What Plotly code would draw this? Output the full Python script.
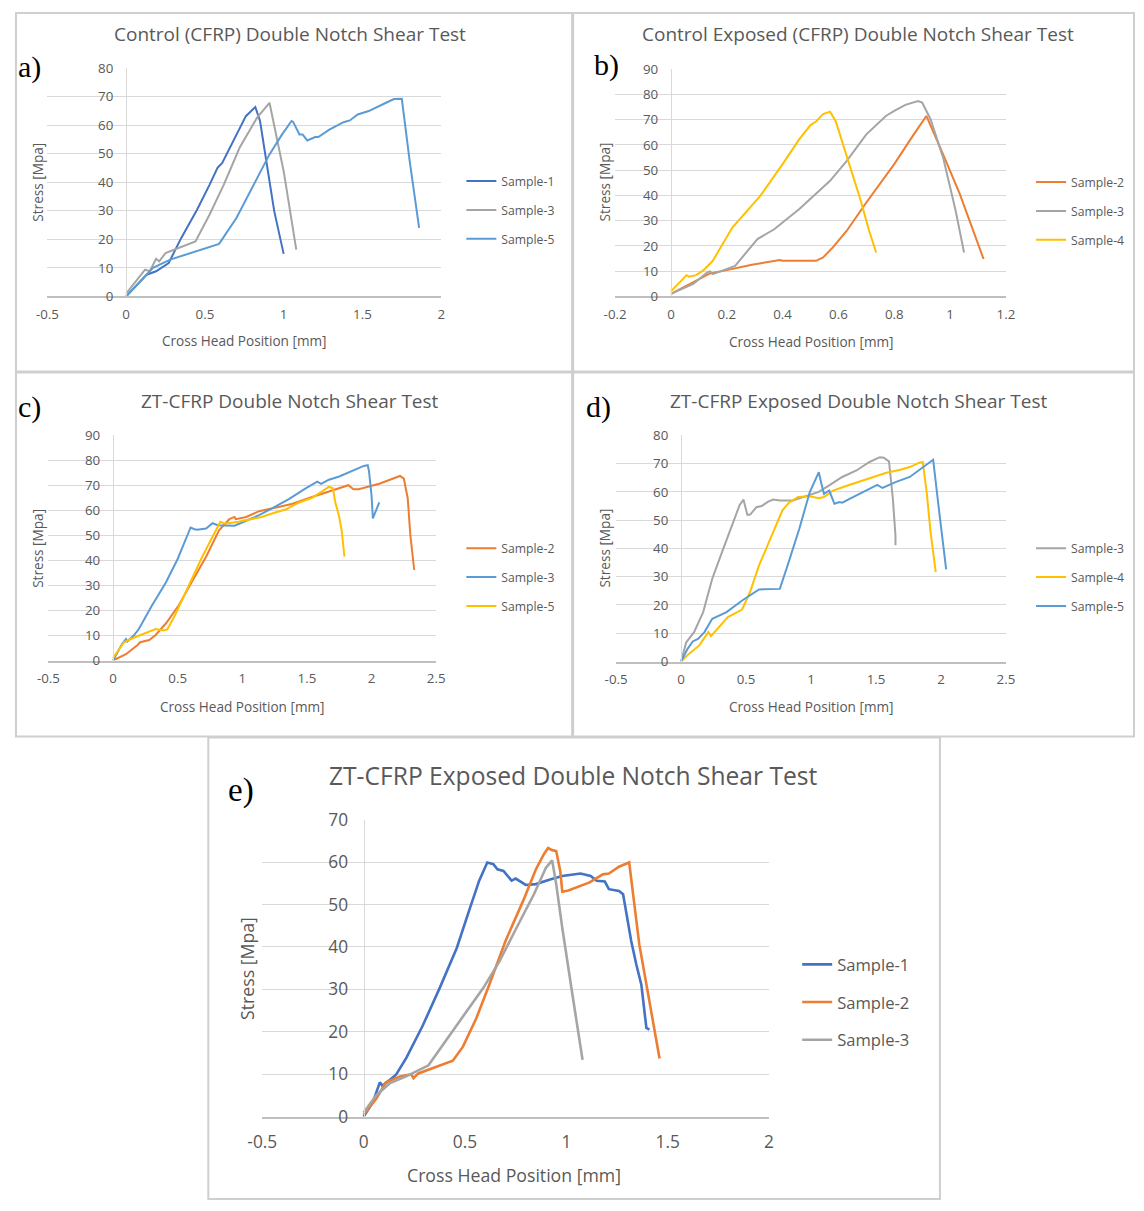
import plotly.graph_objects as go

W, H = 1144, 1211

# ---------------- data ----------------
# a) Control (CFRP)
A_S1_X = [0, 0.13, 0.19, 0.27, 0.35, 0.45, 0.53, 0.58, 0.61, 0.68, 0.76, 0.82, 0.85, 0.89, 0.94, 1.00]
A_S1_Y = [0, 7.6, 8.8, 11.7, 20.5, 30.4, 39.2, 45.1, 46.8, 54.4, 63.2, 66.4, 61.5, 47.4, 29.9, 14.9]
A_S3_X = [0, 0.12, 0.15, 0.19, 0.21, 0.25, 0.32, 0.44, 0.53, 0.62, 0.72, 0.83, 0.91, 1.00, 1.08]
A_S3_Y = [1, 9.4, 8.8, 13.2, 12.3, 15.2, 16.7, 19.3, 28.7, 39.2, 52.1, 62.6, 67.9, 43.9, 16.4]
A_S5_X = [0, 0.17, 0.28, 0.59, 0.70, 0.81, 0.91, 0.99, 1.05, 1.06, 1.10, 1.12, 1.15, 1.20, 1.22,
          1.29, 1.38, 1.42, 1.47, 1.54, 1.59, 1.65, 1.70, 1.75, 1.80, 1.86]
A_S5_Y = [0, 10, 12.9, 18.4, 27.5, 39.2, 49.8, 56.8, 61.5, 61.2, 56.8, 56.8, 54.7, 55.9, 55.9,
          58.5, 61.1, 61.7, 63.8, 65.0, 66.2, 67.9, 69.2, 69.3, 47.4, 24.0]

# b) Control Exposed (CFRP)
B_S2_X = [0, 0.08, 0.14, 0.20, 0.29, 0.39, 0.40, 0.52, 0.545, 0.58, 0.63, 0.70, 0.80, 0.87, 0.915,
          0.975, 1.035, 1.12]
B_S2_Y = [1, 5.5, 9.1, 10.4, 12.5, 14.4, 14.1, 14.1, 15.4, 19.4, 26, 37.2, 52.4, 64.2, 71.5,
          56.3, 40.5, 14.8]
B_S3_X = [0, 0.08, 0.13, 0.14, 0.15, 0.23, 0.27, 0.31, 0.37, 0.46, 0.57, 0.63, 0.70, 0.77, 0.80,
          0.84, 0.885, 0.90, 0.93, 0.975, 1.02, 1.05]
B_S3_Y = [1, 4.9, 9.5, 9.9, 8.8, 12.1, 17.4, 22.7, 26.6, 34.6, 45.8, 53.7, 64.2, 71.5, 73.5,
          75.9, 77.4, 76.8, 70.2, 55, 33.9, 17.4]
B_S4_X = [0, 0.03, 0.056, 0.065, 0.09, 0.115, 0.15, 0.22, 0.32, 0.40, 0.46, 0.50, 0.52, 0.545,
          0.57, 0.59, 0.61, 0.64, 0.68, 0.71, 0.735]
B_S4_Y = [2, 5.5, 8.4, 7.8, 8.4, 10.2, 14.1, 27.3, 39.8, 52.4, 62.3, 67.9, 69.3, 72.2,
          73.2, 69.5, 62.3, 52.4, 37.9, 26, 17.4]

# c) ZT-CFRP
C_S2_X = [0, 0.10, 0.19, 0.21, 0.28, 0.33, 0.41, 0.51, 0.61, 0.72, 0.82, 0.90, 0.94, 0.95, 1.03,
          1.13, 1.28, 1.39, 1.54, 1.70, 1.82, 1.86, 1.90, 2.06, 2.16, 2.22, 2.25, 2.28, 2.30, 2.33]
C_S2_Y = [0, 2.5, 6.2, 7.3, 8.2, 10.2, 14.9, 22.2, 31.5, 41.5, 52.1, 56.5, 57.4, 56.5, 57.4,
          59.7, 61.4, 62.7, 65.4, 68.1, 70.1, 68.5, 68.5, 70.7, 72.7, 73.8, 72.7, 64.8, 50.1, 36.2]
C_S3_X = [0, 0.07, 0.10, 0.11, 0.16, 0.20, 0.30, 0.41, 0.50, 0.56, 0.60, 0.63, 0.65, 0.72, 0.77,
          0.81, 0.87, 0.94, 1.03, 1.13, 1.23, 1.36, 1.49, 1.58, 1.61, 1.67, 1.75, 1.85, 1.94, 1.97,
          1.98, 2.00, 2.01, 2.03, 2.06]
C_S3_Y = [0, 6.6, 8.6, 7.6, 10.0, 12.6, 21.9, 31.3, 40.6, 47.9, 53.2, 52.5, 52.3, 52.8, 54.9,
          54.1, 54.1, 53.9, 55.9, 58.1, 60.8, 64.5, 68.8, 71.5, 70.6, 72.3, 73.6, 75.8, 77.8, 78.1,
          75.8, 65.9, 56.8, 59.4, 63.2]
C_S5_X = [0, 0.085, 0.15, 0.23, 0.33, 0.39, 0.42, 0.48, 0.59, 0.69, 0.79, 0.83, 0.86, 0.88, 0.97,
          1.08, 1.15, 1.23, 1.34, 1.44, 1.54, 1.62, 1.67, 1.70, 1.72, 1.75, 1.77, 1.79]
C_S5_Y = [1, 7.3, 8.9, 10.6, 12.6, 12.0, 12.4, 18.2, 30.2, 41.5, 51.5, 55.5, 54.8, 54.8, 55.5,
          56.5, 57.4, 58.8, 60.5, 63.2, 65.0, 67.7, 69.4, 69.0, 63.2, 57.4, 51.5, 41.5]

# d) ZT-CFRP Exposed
D_S3_X = [0, 0.04, 0.06, 0.10, 0.17, 0.24, 0.32, 0.40, 0.45, 0.48, 0.51, 0.53, 0.58, 0.62, 0.67,
          0.71, 0.76, 0.86, 0.96, 1.06, 1.14, 1.24, 1.35, 1.45, 1.53, 1.56, 1.60, 1.63, 1.65, 1.65]
D_S3_Y = [0, 6.8, 8.0, 10.4, 17.5, 29.3, 39.3, 49.4, 55.3, 57.3, 51.9, 51.9, 54.6, 55.0, 56.6,
          57.3, 57.0, 57.0, 58.5, 60.0, 62.3, 65.3, 67.6, 70.6, 72.3, 72.1, 70.8, 57.6, 44.6, 41.1]
D_S4_X = [0, 0.06, 0.14, 0.21, 0.23, 0.29, 0.36, 0.47, 0.53, 0.60, 0.71, 0.78, 0.83, 0.90, 0.99,
          1.06, 1.10, 1.17, 1.27, 1.37, 1.47, 1.58, 1.68, 1.76, 1.83, 1.86, 1.89, 1.92, 1.96]
D_S4_Y = [0, 2.7, 5.7, 10.4, 9.0, 12.2, 15.7, 18.4, 24.5, 34.0, 45.8, 53.5, 56.2, 58.2, 58.5,
          57.8, 58.2, 60.5, 62.1, 63.7, 65.3, 66.8, 67.8, 68.8, 70.3, 70.6, 60.0, 45.8, 31.6]
D_S5_X = [0, 0.05, 0.09, 0.13, 0.18, 0.24, 0.35, 0.47, 0.60, 0.76, 0.82, 0.91, 0.99, 1.06, 1.08,
          1.10, 1.14, 1.18, 1.22, 1.24, 1.35, 1.47, 1.51, 1.55, 1.65, 1.76, 1.83, 1.90, 1.94, 1.99, 2.04]
D_S5_Y = [0, 4.5, 7.1, 8.0, 10.4, 15.1, 17.5, 21.6, 25.5, 25.7, 34.0, 47.0, 59.9, 67.0, 62.9,
          59.3, 60.5, 55.8, 56.4, 56.2, 58.8, 61.7, 62.5, 61.4, 63.5, 65.3, 67.6, 70.0, 71.4, 51.7, 32.6]

# e) ZT-CFRP Exposed (large)
E_S1_X = [0, 0.046, 0.08, 0.092, 0.13, 0.16, 0.21, 0.29, 0.375, 0.46, 0.52, 0.57, 0.61, 0.64, 0.66,
          0.69, 0.73, 0.75, 0.80, 0.85, 0.92, 0.98, 1.07, 1.12, 1.15, 1.19, 1.21, 1.26, 1.28, 1.30,
          1.32, 1.345, 1.37, 1.395, 1.41]
E_S1_Y = [0, 3.5, 8.1, 7.3, 8.7, 9.9, 13.8, 21.3, 30.3, 39.8, 48.5, 55.6, 59.9, 59.5, 58.3,
          57.9, 55.6, 56.1, 54.6, 54.8, 55.9, 56.7, 57.3, 56.7, 55.6, 55.4, 53.6, 53.2, 52.4, 46.9,
          41.4, 35.9, 31.1, 20.9, 20.5]
E_S2_X = [0, 0.063, 0.11, 0.18, 0.235, 0.246, 0.27, 0.36, 0.44, 0.49, 0.556, 0.62, 0.70, 0.79, 0.85,
          0.89, 0.91, 0.93, 0.95, 0.97, 0.98, 1.01, 1.05, 1.115, 1.18, 1.21, 1.26, 1.31, 1.36, 1.46]
E_S2_Y = [0.5, 4.3, 8.1, 9.5, 10.0, 9.1, 10.2, 11.8, 13.2, 16.5, 23.2, 31.1, 41.4, 51.2, 58.3,
          61.9, 63.3, 62.8, 62.6, 57.9, 53.0, 53.3, 54.0, 55.2, 57.1, 57.3, 58.9, 59.9, 40.6, 13.7]
E_S3_X = [0, 0.063, 0.13, 0.21, 0.32, 0.39, 0.49, 0.59, 0.67, 0.75, 0.84, 0.90, 0.93, 0.95, 0.98,
          1.03, 1.08]
E_S3_Y = [1, 5.1, 7.9, 9.5, 12.1, 16.9, 23.6, 30.3, 36.6, 44.1, 52.4, 58.7, 60.4, 54.8, 44.5,
          28.8, 13.4]

# tick values
A_XTICKS = [-0.5, 0, 0.5, 1, 1.5, 2]
B_XTICKS = [-0.2, 0, 0.2, 0.4, 0.6, 0.8, 1, 1.2]
C_XTICKS = [-0.5, 0, 0.5, 1, 1.5, 2, 2.5]
D_XTICKS = [-0.5, 0, 0.5, 1, 1.5, 2, 2.5]
E_XTICKS = [-0.5, 0, 0.5, 1, 1.5, 2]

TITLES = ["Control (CFRP) Double Notch Shear Test",
          "Control Exposed (CFRP) Double Notch Shear Test",
          "ZT-CFRP Double Notch Shear Test",
          "ZT-CFRP Exposed Double Notch Shear Test",
          "ZT-CFRP Exposed Double Notch Shear Test"]
LABELS = ["a)", "b)", "c)", "d)", "e)"]
X_TITLE = "Cross Head Position [mm]"
Y_TITLE = "Stress [Mpa]"

# ---------------- styles ----------------
DBLUE, ORANGE, GRAY, YELLOW, LBLUE = "#4472C4", "#ED7D31", "#A5A5A5", "#FFC000", "#5B9BD5"
TXT = "#595959"
FONT = "Open Sans"

# the photographed page shows a small frame around the figure; the layout
# positions below are given in picture pixels and mapped back to the page
OFFX, OFFY, SX, SY = 14.6, 11.75, 0.9795, 0.9806

panels = [
    dict(series=[("Sample-1", A_S1_X, A_S1_Y, DBLUE), ("Sample-3", A_S3_X, A_S3_Y, GRAY),
                 ("Sample-5", A_S5_X, A_S5_Y, LBLUE)],
         xr=[-0.5, 2], yr=[0, 80], xticks=A_XTICKS,
         px=(47, 441), py=(296, 68), box=(7, 6, 572, 371),
         title=(290, 34), lab=(29, 67), ytit=(37, 182), xtit=(244, 340),
         leg=(469, 181), big=False),
    dict(series=[("Sample-2", B_S2_X, B_S2_Y, ORANGE), ("Sample-3", B_S3_X, B_S3_Y, GRAY),
                 ("Sample-4", B_S4_X, B_S4_Y, YELLOW)],
         xr=[-0.2, 1.2], yr=[0, 90], xticks=B_XTICKS,
         px=(615, 1006), py=(296, 69), box=(573, 6, 1143, 371),
         title=(858, 34), lab=(606, 65), ytit=(604, 182), xtit=(811, 341),
         leg=(1039, 182), big=False),
    dict(series=[("Sample-2", C_S2_X, C_S2_Y, ORANGE), ("Sample-3", C_S3_X, C_S3_Y, LBLUE),
                 ("Sample-5", C_S5_X, C_S5_Y, YELLOW)],
         xr=[-0.5, 2.5], yr=[0, 90], xticks=C_XTICKS,
         px=(48, 436), py=(660, 435), box=(7, 372, 572, 736),
         title=(290, 401), lab=(29, 407), ytit=(37, 548), xtit=(242, 706),
         leg=(469, 548), big=False),
    dict(series=[("Sample-3", D_S3_X, D_S3_Y, GRAY), ("Sample-4", D_S4_X, D_S4_Y, YELLOW),
                 ("Sample-5", D_S5_X, D_S5_Y, LBLUE)],
         xr=[-0.5, 2.5], yr=[0, 80], xticks=D_XTICKS,
         px=(616, 1006), py=(661, 435), box=(573, 372, 1143, 736),
         title=(859, 401), lab=(598, 407), ytit=(604, 548), xtit=(811, 706),
         leg=(1039, 548), big=False),
    dict(series=[("Sample-1", E_S1_X, E_S1_Y, DBLUE), ("Sample-2", E_S2_X, E_S2_Y, ORANGE),
                 ("Sample-3", E_S3_X, E_S3_Y, GRAY)],
         xr=[-0.5, 2], yr=[0, 70], xticks=E_XTICKS,
         px=(262, 769), py=(1116, 819), box=(208, 737, 940, 1212),
         title=(573, 775), lab=(241, 790), ytit=(246, 968), xtit=(514, 1174),
         leg=(805, 967), big=True),
]

fig = go.Figure()
shapes, annotations = [], []
layout = {}


def page_x(px):
    return (px - OFFX) / SX


def page_y(py):
    return (py - OFFY) / SY


def fx(px):
    return min(max(page_x(px), 1), W - 1) / W


def fy(py):
    return 1 - min(max(page_y(py), 1), H - 1) / H


for i, p in enumerate(panels):
    n = "" if i == 0 else str(i + 1)
    big = p["big"]
    tick_sz = 17.3 if big else 13.3
    leg_sz = 16.6 if big else 12.2
    tit_sz = 24.6 if big else 19
    ax_sz = 17.7 if big else 13.6
    lw = 2.6 if big else 2.0
    legname = "legend" if i == 0 else f"legend{i + 1}"
    for k, (name, xs, ys, col) in enumerate(p["series"]):
        fig.add_trace(go.Scatter(
            x=xs, y=ys, mode="lines", name=name,
            line=dict(color=col, width=lw),
            xaxis="x" + n, yaxis="y" + n,
            legend=legname, legendgroup=f"g{i}_{k}",
        ))
    x0, x1 = p["xr"]
    dom_x = [fx(p["px"][0]), fx(p["px"][1])]
    dom_y = [fy(p["py"][0]), fy(p["py"][1])]
    zero_px = p["px"][0] + (0 - x0) / (x1 - x0) * (p["px"][1] - p["px"][0])
    layout["xaxis" + n] = dict(
        domain=dom_x, range=p["xr"], anchor="y" + n,
        tickvals=p["xticks"], ticktext=[f"{v:g}" for v in p["xticks"]],
        showgrid=False, zeroline=False, showline=True,
        linecolor="#BFBFBF", linewidth=1.5, ticks="",
        ticklabelstandoff=9 if big else 5,
        tickfont=dict(family=FONT, size=tick_sz, color=TXT),
        fixedrange=True,
    )
    layout["yaxis" + n] = dict(
        domain=dom_y, range=p["yr"], anchor="free", position=fx(zero_px),
        dtick=10, showgrid=True, gridcolor="#D9D9D9", gridwidth=1.3,
        zeroline=False, showline=True, linecolor="#D9D9D9", linewidth=1.3,
        ticks="", ticklabelstandoff=12 if big else 10,
        tickfont=dict(family=FONT, size=tick_sz, color=TXT),
        fixedrange=True,
    )
    spacing = 37 / SY if big else 28.3 / SY
    item_h = max(leg_sz * 1.3, 16) + 3
    top_p = page_y(p["leg"][1]) - (21 if big else 15)
    layout[legname] = dict(
        x=(page_x(p["leg"][0]) - 8) / W, y=1 - top_p / H,
        xanchor="left", yanchor="top", bgcolor="rgba(0,0,0,0)",
        font=dict(family=FONT, size=leg_sz, color=TXT),
        tracegroupgap=spacing - item_h, borderwidth=0,
    )
    bx0, by0, bx1, by1 = p["box"]
    shapes.append(dict(type="rect", xref="paper", yref="paper",
                       x0=fx(bx0), x1=fx(bx1), y0=fy(by1), y1=fy(by0),
                       line=dict(color="#CFCFCF", width=2), layer="below"))
    annotations.append(dict(text=TITLES[i], x=fx(p["title"][0]), y=fy(p["title"][1]),
                            xref="paper", yref="paper", showarrow=False,
                            xanchor="center", yanchor="middle",
                            font=dict(family=FONT, size=tit_sz, color=TXT)))
    annotations.append(dict(text=LABELS[i], x=fx(p["lab"][0]), y=fy(p["lab"][1]),
                            xref="paper", yref="paper", showarrow=False,
                            xanchor="center", yanchor="middle",
                            font=dict(family="Liberation Serif", size=33 if big else 30,
                                      color="black")))
    annotations.append(dict(text=Y_TITLE, x=fx(p["ytit"][0]), y=fy(p["ytit"][1]),
                            xref="paper", yref="paper", showarrow=False, textangle=-90,
                            xanchor="center", yanchor="middle",
                            font=dict(family=FONT, size=ax_sz, color=TXT)))
    annotations.append(dict(text=X_TITLE, x=fx(p["xtit"][0]), y=fy(p["xtit"][1]),
                            xref="paper", yref="paper", showarrow=False,
                            xanchor="center", yanchor="middle",
                            font=dict(family=FONT, size=ax_sz, color=TXT)))

fig.update_layout(
    width=W, height=H, margin=dict(l=0, r=0, t=0, b=0),
    paper_bgcolor="white", plot_bgcolor="white",
    showlegend=True, shapes=shapes, annotations=annotations,
    **layout,
)

fig.write_html(
    "out.html",
    config={"displayModeBar": False},
    post_script="document.body.style.margin='0';document.body.style.padding='0';"
                "document.documentElement.style.overflow='hidden';",
)
